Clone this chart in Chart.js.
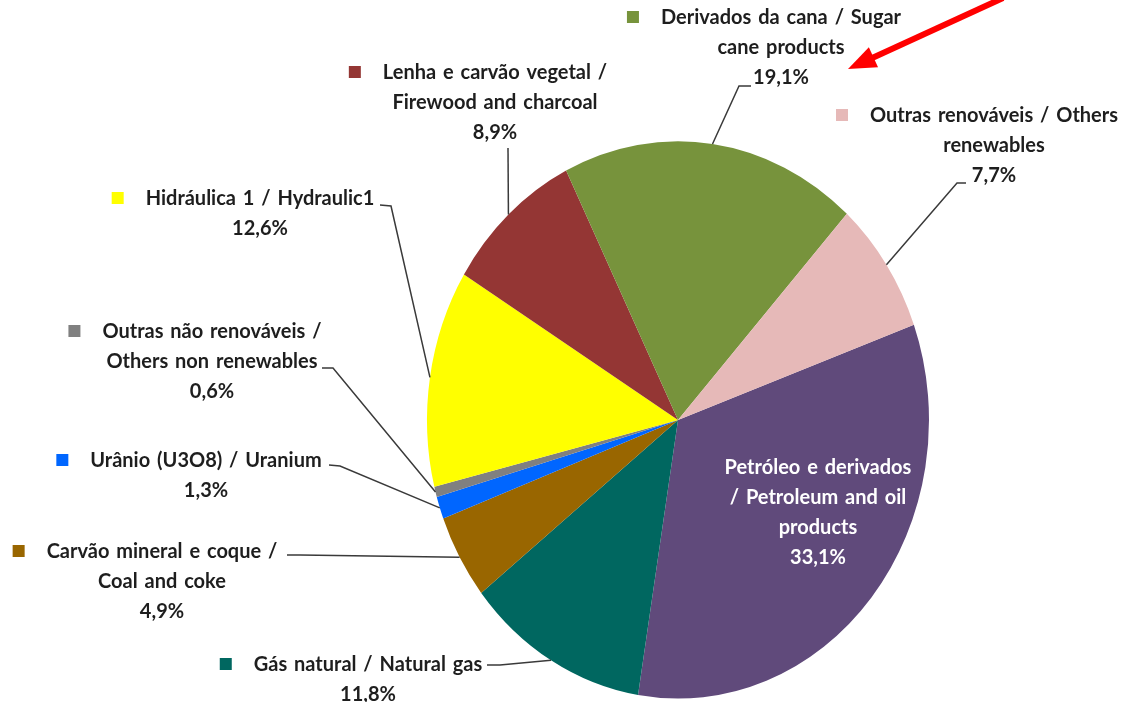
<!DOCTYPE html>
<html>
<head>
  <title>Oferta interna de energia / Domestic energy supply</title>
  <!-- Include Chart.js -->
  <script src="https://cdn.jsdelivr.net/npm/chart.js"></script>
  <style>
    body { margin: 0; background: #fff; }
  </style>
</head>
<body>
  <canvas id="energiaChart" width="1126" height="702"></canvas>

  <script>
    // Categories, clockwise starting from petroleum
    const fontes = [
      'Petróleo e derivados / Petroleum and oil products',
      'Gás natural / Natural gas',
      'Carvão mineral e coque / Coal and coke',
      'Urânio (U3O8) / Uranium',
      'Outras não renováveis / Others non renewables',
      'Hidráulica 1 / Hydraulic1',
      'Lenha e carvão vegetal / Firewood and charcoal',
      'Derivados da cana / Sugar cane products',
      'Outras renováveis / Others renewables'
    ];
    // How each category name is broken into lines on the chart
    const rotulos = [
      ['Petróleo e derivados', '/ Petroleum and oil', 'products'],
      ['Gás natural / Natural gas'],
      ['Carvão mineral e coque /', 'Coal and coke'],
      ['Urânio (U3O8) / Uranium'],
      ['Outras não renováveis /', 'Others non renewables'],
      ['Hidráulica 1 / Hydraulic1'],
      ['Lenha e carvão vegetal /', 'Firewood and charcoal'],
      ['Derivados da cana / Sugar', 'cane products'],
      ['Outras renováveis / Others', 'renewables']
    ];
    const percentuais = [33.1, 11.8, 4.9, 1.3, 0.6, 12.6, 8.9, 19.1, 7.7];
    const cores = ['#604a7b', '#006760', '#996600', '#0066ff', '#808080', '#ffff00', '#943634', '#77933c', '#e6b9b8'];

    // the original picture is stretched vertically
    const ESTICA_Y = 1.11;
    const LINHA = 29.7;

    // label blocks: centre x, first line y, leader path (ends on the slice edge)
    const posicoes = [
      { cx: 818, y: 468, cor: '#ffffff', marca: false },
      { cx: 368, y: 665, guia: [[487, 665], [500, 665]] },
      { cx: 162, y: 552, guia: [[287, 555], [300, 555]] },
      { cx: 206, y: 461, guia: [[329, 465], [340, 466]] },
      { cx: 212, y: 332, guia: [[322, 368], [333, 368]] },
      { cx: 260, y: 199, guia: [[380, 205], [391, 206]] },
      { cx: 495, y: 73,  guia: [[508, 148]] },
      { cx: 781, y: 18,  guia: [[751, 86], [739, 86]] },
      { cx: 994, y: 116, guia: [[966, 183], [957, 183]] }
    ];

    const fmt = v => v.toFixed(1).replace('.', ',') + '%';

    const elipse = {
      id: 'elipse',
      beforeDatasetsDraw(chart) {
        const arc = chart.getDatasetMeta(0).data[0];
        const ctx = chart.ctx;
        ctx.save();
        ctx.translate(arc.x, arc.y);
        ctx.scale(1, ESTICA_Y);
        ctx.translate(-arc.x, -arc.y);
      },
      afterDatasetsDraw(chart) {
        chart.ctx.restore();
      }
    };

    const textos = {
      id: 'textos',
      afterDraw(chart) {
        const ctx = chart.ctx;
        const meta = chart.getDatasetMeta(0);
        ctx.save();
        ctx.font = 'bold 20px Lato';
        ctx.wordSpacing = '2px';
        ctx.textAlign = 'center';
        ctx.textBaseline = 'middle';
        meta.data.forEach((arc, i) => {
          const p = posicoes[i];
          const linhas = rotulos[i].concat(fmt(percentuais[i]));

          if (p.guia) {
            const a = (arc.startAngle + arc.endAngle) / 2;
            const ex = arc.x + arc.outerRadius * Math.cos(a);
            const ey = arc.y + arc.outerRadius * ESTICA_Y * Math.sin(a);
            ctx.beginPath();
            ctx.moveTo(p.guia[0][0], p.guia[0][1]);
            p.guia.slice(1).forEach(pt => ctx.lineTo(pt[0], pt[1]));
            ctx.lineTo(ex, ey);
            ctx.strokeStyle = '#3a3a3a';
            ctx.lineWidth = 1.5;
            ctx.stroke();
          }

          ctx.fillStyle = p.cor || '#1e1e1e';
          linhas.forEach((t, k) => ctx.fillText(t, p.cx, p.y + k * LINHA));

          if (p.marca !== false) {
            const w = ctx.measureText(linhas[0]).width;
            ctx.fillStyle = cores[i];
            ctx.fillRect(p.cx - w / 2 - 34, p.y - 7, 12, 12);
          }
        });
        ctx.restore();
      }
    };

    // red arrow pointing at the sugar cane label
    const seta = {
      id: 'seta',
      afterDraw(chart) {
        const ctx = chart.ctx;
        const x0 = 1003, y0 = -2, x1 = 848, y1 = 69;
        const len = Math.hypot(x1 - x0, y1 - y0);
        const ux = (x1 - x0) / len, uy = (y1 - y0) / len;
        const bx = x1 - 28 * ux, by = y1 - 28 * uy;
        ctx.save();
        ctx.strokeStyle = '#ff0000';
        ctx.fillStyle = '#ff0000';
        ctx.lineWidth = 6;
        ctx.beginPath();
        ctx.moveTo(x0, y0);
        ctx.lineTo(bx + 2 * ux, by + 2 * uy);
        ctx.stroke();
        ctx.beginPath();
        ctx.moveTo(x1, y1);
        ctx.lineTo(bx - 11 * uy, by + 11 * ux);
        ctx.lineTo(bx + 11 * uy, by - 11 * ux);
        ctx.closePath();
        ctx.fill();
        ctx.restore();
      }
    };

    const ctx = document.getElementById('energiaChart').getContext('2d');
    new Chart(ctx, {
      type: 'pie',
      data: {
        labels: fontes,
        datasets: [{
          data: percentuais,
          backgroundColor: cores,
          borderWidth: 0,
          clip: false
        }]
      },
      options: {
        responsive: false,
        animation: false,
        events: [],
        rotation: 70,
        layout: {
          padding: { left: 427, right: 197, top: 169, bottom: 31 }
        },
        plugins: {
          legend: { display: false },
          tooltip: { enabled: false }
        }
      },
      plugins: [elipse, textos, seta]
    });
  </script>
</body>
</html>
